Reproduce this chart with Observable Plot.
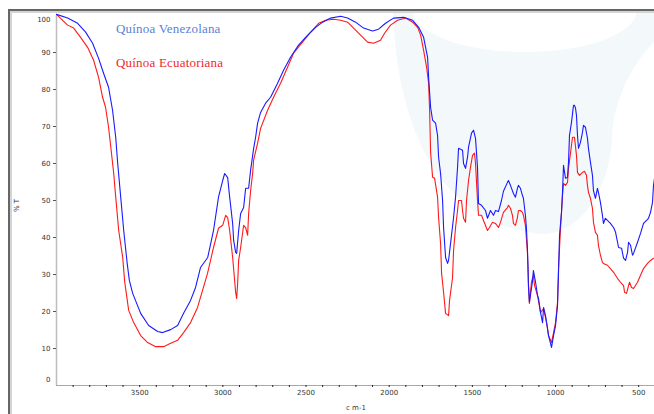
<!DOCTYPE html>
<html><head><meta charset="utf-8">
<script src="https://cdn.jsdelivr.net/npm/d3@7"></script>
<script src="https://cdn.jsdelivr.net/npm/@observablehq/plot@0.6"></script>
<style>
html,body{margin:0;padding:0;background:#fff;overflow:hidden}
#wrap{position:relative;width:654px;height:414px;overflow:hidden;background:#fff}
#wm{position:absolute;left:0;top:0}
#chart{position:absolute;left:0;top:0}
.frame{position:absolute;left:8px;top:9px;width:700px;height:500px;border-left:2px solid #666;border-top:2px solid #666}
.frame2{position:absolute;left:10px;top:11px;width:700px;height:500px;border-left:2px solid #d4d4d4;border-top:2px solid #d4d4d4}
.leg{position:absolute;font-family:"Liberation Serif","Times New Roman",serif;font-size:13px;line-height:13px;letter-spacing:0.2px;white-space:nowrap}
.ax{position:absolute;font-family:"DejaVu Sans",Verdana,sans-serif;font-size:7px;line-height:7px;color:#333;white-space:nowrap}
</style></head>
<body>
<div id="wrap">
  <svg id="wm" width="654" height="414">
    <path d="M393,12 C396,110 430,222 540,234 C585,236 612,180 612,135 C615,95 635,60 656,40 L656,12 Z" fill="#f3f9fb"/>
    <ellipse cx="525" cy="10" rx="112" ry="42" fill="#fff"/>
  </svg>
  <div id="chart"></div>
  <div class="frame"></div>
  <div class="frame2"></div>
  <div class="leg" style="left:116px;top:22px;color:#5a7fd6">Quínoa Venezolana</div>
  <div class="leg" style="left:116px;top:56px;color:#ee2a2a">Quínoa Ecuatoriana</div>
  <div class="ax" style="left:11px;top:202px;transform:rotate(-90deg);transform-origin:center">% T</div>
  <div class="ax" style="left:346px;top:405px">c m-1</div>
</div>
<script>
// Wavenumber (cm-1), %T
const venezolana = [[4000,100.3],[3933,99.3],[3873,97.9],[3825,95.5],[3783,92.5],[3747,88.4],[3717,84.4],[3687,80.6],[3663,74.4],[3644,67.1],[3632,60],[3614,50.9],[3596,41.9],[3575,33],[3562,28.4],[3542,24.9],[3494,19.5],[3446,16.2],[3392,14.6],[3362,14.3],[3314,15.1],[3272,16.2],[3236,19.5],[3194,23],[3164,26.5],[3134,31.9],[3091,34.6],[3056,41.9],[3026,50.9],[3001,55.4],[2989,57.3],[2971,56.2],[2959,50.9],[2941,43.8],[2935,39.2],[2923,36],[2917,35.7],[2905,41.9],[2893,46.5],[2875,48.1],[2863,53.3],[2845,53.3],[2833,58.2],[2815,64],[2803,67.1],[2791,70.9],[2773,73.8],[2743,76.3],[2713,77.9],[2671,81.7],[2635,85.2],[2593,88.7],[2545,92],[2490,94.7],[2442,96.8],[2400,98.2],[2352,99.3],[2292,99.8],[2250,99.3],[2202,98.2],[2154,96.6],[2100,95.8],[2064,96.3],[2022,97.9],[1974,99.3],[1914,99.5],[1859,98.7],[1823,96.8],[1793,94.1],[1769,88.7],[1763,83.3],[1751,75.2],[1739,71.7],[1721,70.9],[1709,67.5],[1703,61.7],[1691,57.3],[1679,50],[1673,42.7],[1661,34.6],[1649,33],[1643,33.8],[1631,38.4],[1613,45.4],[1601,50.9],[1589,59],[1583,64.1],[1559,63.6],[1553,60],[1541,58.7],[1529,61.7],[1523,64.4],[1505,68.2],[1493,69],[1481,66.8],[1469,59],[1463,49.2],[1445,48.7],[1421,47.3],[1409,45.2],[1391,47.3],[1373,46],[1361,47.3],[1343,47],[1325,50],[1313,52.5],[1289,54.9],[1283,55.4],[1271,54.1],[1253,51.9],[1241,50.9],[1229,53.3],[1223,54.1],[1211,53.3],[1199,51.4],[1193,50.6],[1181,46],[1175,42.5],[1169,37.1],[1165,31.6],[1163,27],[1157,22.5],[1139,27.9],[1133,31.1],[1120,27.9],[1108,24.3],[1102,23.5],[1090,19.7],[1078,17],[1072,21.1],[1060,18.9],[1048,15.4],[1042,13.5],[1024,10.3],[1012,13.5],[1000,16.2],[988,21.6],[982,30.6],[976,40.6],[964,46.8],[958,52.2],[952,59.5],[940,56],[928,56.3],[922,60.3],[916,67.6],[904,71.1],[892,75.7],[886,75.7],[880,75],[874,73],[868,67.6],[862,64.1],[850,65.7],[838,68.4],[832,70.3],[820,69.8],[808,66.8],[802,64.1],[790,60.3],[778,56.8],[772,52.7],[760,50.6],[748,53.3],[742,52.2],[730,49.5],[718,46],[712,43.8],[700,45.2],[688,44.6],[670,43.8],[651,42.7],[639,41.4],[621,37.3],[603,37.1],[591,34.4],[579,33.8],[567,36],[561,38.7],[549,37.9],[537,35.2],[531,35.7],[507,38.7],[489,41.1],[471,43.8],[441,45.2],[429,46.8],[417,49.5],[411,54.1],[405,56]];
const ecuatoriana = [[4000,100.3],[3963,98.7],[3933,97.4],[3897,96.6],[3855,94.1],[3813,91.4],[3777,87.9],[3747,83.3],[3723,77.9],[3705,75.2],[3687,69.8],[3675,65],[3656,57.3],[3644,50.9],[3626,41.9],[3602,34.6],[3590,28],[3566,20.3],[3536,17],[3494,13.5],[3452,11.6],[3404,10.5],[3356,10.5],[3314,11.4],[3272,12.2],[3236,14.3],[3194,17],[3152,21.1],[3122,25.7],[3092,30.3],[3074,33.8],[3056,37.3],[3026,42.5],[3001,43.3],[2983,46],[2971,45.4],[2959,41.9],[2941,34.6],[2923,25.2],[2917,23.5],[2911,27.6],[2905,33.8],[2893,37.3],[2875,43.3],[2863,42.7],[2851,40.6],[2845,46.5],[2833,52.7],[2821,57.3],[2815,60.9],[2791,65.5],[2773,69.5],[2731,74.4],[2695,77.9],[2653,81.7],[2611,86],[2575,89.8],[2521,92.8],[2472,95.5],[2424,97.9],[2382,98.7],[2334,99],[2292,98.7],[2250,98.2],[2214,96.6],[2172,94.7],[2130,92.8],[2094,92.5],[2052,93.3],[2028,95.2],[1992,97.4],[1950,98.7],[1901,99.3],[1859,98.2],[1829,96.8],[1811,94.7],[1793,90.6],[1775,86],[1763,81.7],[1757,74.4],[1751,63],[1739,56.3],[1727,56],[1709,50.9],[1703,45.4],[1691,38.4],[1685,30.3],[1673,25.2],[1661,19.5],[1643,18.9],[1637,23],[1619,29.2],[1613,36.5],[1601,42.7],[1589,47.3],[1583,50],[1565,50],[1559,47.3],[1553,45.2],[1541,44.1],[1535,50],[1523,55.4],[1511,59],[1499,62.2],[1487,62.8],[1481,60],[1469,50],[1463,46],[1445,46],[1433,44.6],[1409,41.9],[1397,42.7],[1379,44.1],[1361,43.8],[1343,42.7],[1331,44.1],[1313,46.8],[1289,48.1],[1283,48.7],[1271,47.9],[1259,46],[1253,43.8],[1241,43.3],[1229,45.4],[1223,47.3],[1211,47.3],[1199,46.8],[1193,46],[1181,43.3],[1169,36],[1163,27.9],[1157,22.2],[1145,27.9],[1133,29.8],[1126,27],[1108,24.3],[1090,19.7],[1072,20.8],[1054,17],[1042,13.5],[1024,11.6],[1012,14.3],[1000,17],[988,22.5],[982,31.6],[970,42.5],[958,51.4],[952,54.6],[940,54.1],[928,54.9],[922,58.7],[910,62.8],[898,67.1],[886,67.1],[874,62.2],[868,57.6],[856,56.8],[838,57.6],[826,57.9],[814,56.8],[808,54.1],[802,52.2],[790,50.6],[778,47.9],[772,44.1],[760,41.4],[748,40.6],[742,37.9],[730,35.2],[718,33.3],[712,33],[688,32.5],[670,31.6],[651,30.6],[627,28.9],[609,27.9],[591,27],[585,25.2],[573,24.9],[561,27],[555,27.9],[543,26.5],[531,26.2],[507,27.9],[489,29.8],[471,31.6],[447,33],[429,33.8],[411,34.4]];

const yTicks = [10,20,30,40,50,60,70,80,90];
const xMajor = [3500,3000,2500,2000,1500,1000,500];
const xMinor = d3.range(500, 4000, 100);

const toRows = (arr) => arr.map(([wn, t]) => ({wn, t}));

const chart = Plot.plot({
  width: 654, height: 414,
  marginLeft: 56, marginRight: 0, marginTop: 15, marginBottom: 29,
  style: {background: "transparent", fontFamily: "'DejaVu Sans', Verdana, sans-serif", fontSize: "7px", overflow: "visible"},
  x: {domain: [4000, 405]},
  y: {domain: [0, 100]},
  marks: [
    Plot.ruleX([4000], {stroke: "#bdbdbd", strokeWidth: 1.5}),
    Plot.ruleY([0], {stroke: "#a8a8a8", strokeWidth: 1.2}),
    Plot.axisY(yTicks, {tickSize: 3, tickPadding: 3, label: null, stroke: "#555", fill: "#333"}),
    Plot.axisY([100], {tickSize: 0, tickPadding: 6, dy: 4, label: null, fill: "#333"}),
    Plot.axisY([0], {tickSize: 0, tickPadding: 6, dy: -6, label: null, fill: "#333"}),
    Plot.axisX(xMinor, {tickSize: 2, tickFormat: () => "", label: null, stroke: "#222"}),
    Plot.axisX(xMajor, {tickSize: 0, tickPadding: 5, tickFormat: d => String(d), label: null, fill: "#333"}),
    Plot.line(toRows(ecuatoriana), {x: "wn", y: "t", stroke: "#ff1a1a", strokeWidth: 1.1}),
    Plot.line(toRows(venezolana), {x: "wn", y: "t", stroke: "#1a1aff", strokeWidth: 1.1})
  ]
});
document.getElementById("chart").appendChild(chart);
</script>
</body></html>
